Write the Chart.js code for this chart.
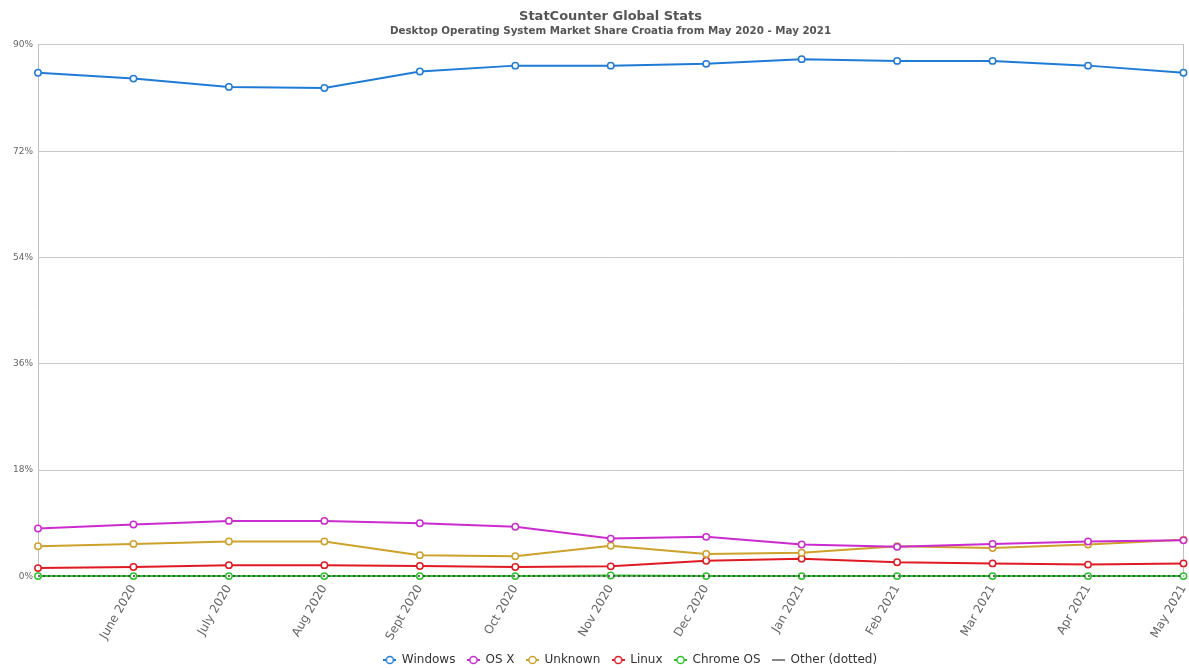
<!DOCTYPE html>
<html>
<head>
<meta charset="utf-8">
<script src="https://cdn.jsdelivr.net/npm/chart.js@4"></script>
<style>
  html, body { margin: 0; padding: 0; background: #fff; }
  #wrap { width: 1189px; height: 668px; }
</style>
</head>
<body>
<div id="wrap"><canvas id="chart"></canvas></div>
<script>
// Mois affichés sur l'axe x
const months = ['May 2020', 'June 2020', 'July 2020', 'Aug 2020', 'Sept 2020', 'Oct 2020', 'Nov 2020',
                'Dec 2020', 'Jan 2021', 'Feb 2021', 'Mar 2021', 'Apr 2021', 'May 2021'];

// Parts de marché (%)
const windowsData  = [85.3, 84.3, 82.9, 82.7, 85.5, 86.5, 86.5, 86.8, 87.6, 87.3, 87.3, 86.5, 85.3];
const osxData      = [8.1, 8.8, 9.4, 9.4, 9.0, 8.4, 6.4, 6.7, 5.4, 5.0, 5.5, 5.9, 6.1];
const unknownData  = [5.1, 5.5, 5.9, 5.9, 3.6, 3.4, 5.2, 3.8, 4.0, 5.1, 4.8, 5.4, 6.2];
const linuxData    = [1.4, 1.6, 1.9, 1.9, 1.75, 1.6, 1.7, 2.65, 3.0, 2.4, 2.2, 2.0, 2.2];
const chromeOsData = [0.05, 0.05, 0.05, 0.05, 0.05, 0.05, 0.15, 0.05, 0.05, 0.05, 0.05, 0.05, 0.05];
const otherData    = [0.05, 0.05, 0.05, 0.05, 0.05, 0.05, 0.05, 0.05, 0.05, 0.05, 0.05, 0.05, 0.05];

// Graduations de l'axe y
const yTicks = [0, 18, 36, 54, 72, 90];

const titleText = 'StatCounter Global Stats';
const subtitleText = 'Desktop Operating System Market Share Croatia from May 2020 - May 2021';

// Symbole de légende : trait + petit cercle
function legendSymbol(color, withCircle) {
    const c = document.createElement('canvas');
    c.width = 13;
    c.height = 10;
    const g = c.getContext('2d');
    g.strokeStyle = color;
    g.lineWidth = 2;
    g.beginPath();
    g.moveTo(0, 5);
    g.lineTo(13, 5);
    g.stroke();
    if (withCircle) {
        g.fillStyle = '#ffffff';
        g.lineWidth = 1.5;
        g.beginPath();
        g.arc(6.5, 5, 3.6, 0, Math.PI * 2);
        g.fill();
        g.stroke();
    }
    return c;
}

function serie(label, data, color, order) {
    return {
        label: label,
        data: data,
        order: order,
        borderColor: color,
        backgroundColor: '#ffffff',
        borderWidth: 2,
        pointRadius: 3.2,
        pointBorderWidth: 1.5,
        pointBackgroundColor: '#ffffff',
        pointBorderColor: color,
        tension: 0,
        clip: false,
        legendStyle: legendSymbol(color, true)
    };
}

const datasets = [
    serie('Windows', windowsData, '#1f7bd6', 0),
    serie('OS X', osxData, '#cc2bcf', 1),
    serie('Unknown', unknownData, '#cda22a', 2),
    serie('Linux', linuxData, '#e01a22', 3),
    serie('Chrome OS', chromeOsData, '#2ec22e', 4),
    {
        label: 'Other (dotted)',
        data: otherData,
        order: -1,
        borderColor: '#3a3a3a',
        backgroundColor: '#888888',
        borderWidth: 1.5,
        borderDash: [2, 3],
        pointRadius: 0,
        clip: false,
        legendStyle: legendSymbol('#888888', false)
    }
];

// Décale légende et titres pour les placer comme sur l'original
const boxShift = {
    id: 'boxShift',
    afterLayout(ch) {
        const lg = ch.legend;
        if (lg) {
            lg.left += 33; lg.right += 33;
            lg.top += 8; lg.bottom += 8;
        }
        ch.boxes.forEach(b => {
            const t = b.options && b.options.text;
            if (t === titleText || t === subtitleText) {
                b.left += 13; b.right += 13;
            }
        });
    }
};

const ctx = document.getElementById('chart').getContext('2d');
const chart = new Chart(ctx, {
    type: 'line',
    data: { labels: months, datasets: datasets },
    plugins: [boxShift],
    options: {
        responsive: true,
        maintainAspectRatio: false,
        animation: false,
        layout: { padding: { left: 8, right: 2, top: 0, bottom: 0 } },
        scales: {
            x: {
                type: 'category',
                offset: false,
                grid: { display: false, drawTicks: false },
                border: { display: true, color: '#c0c0c0' },
                afterFit: function(scale) {
                    scale.paddingRight = 0;
                    scale.paddingLeft = 0;
                    scale.height -= 15;
                    // pas de découpe des étiquettes
                    scale._computeLabelArea = () => undefined;
                },
                ticks: {
                    autoSkip: false,
                    minRotation: 60,
                    maxRotation: 60,
                    padding: 6,
                    color: '#666666',
                    font: { family: 'DejaVu Sans', size: 12 },
                    callback: function(value, index) {
                        return index === 0 ? '' : months[index];
                    }
                }
            },
            y: {
                min: 0,
                max: 90,
                afterBuildTicks: function(axis) {
                    axis.ticks = yTicks.map(v => ({ value: v }));
                },
                grid: { color: '#c8c8c8', drawTicks: false, lineWidth: 1 },
                border: { display: true, color: '#c0c0c0' },
                ticks: {
                    padding: 5,
                    color: '#666666',
                    font: { family: 'DejaVu Sans', size: 9 },
                    callback: v => v + '%'
                }
            },
            y2: {
                position: 'right',
                min: 0,
                max: 90,
                grid: { display: false, drawTicks: false },
                border: { display: true, color: '#c0c0c0' },
                ticks: { display: false }
            }
        },
        plugins: {
            title: {
                display: true,
                text: titleText,
                color: '#555555',
                font: { family: 'DejaVu Sans', size: 13, weight: 'bold' },
                padding: { top: 9, bottom: 1 }
            },
            subtitle: {
                display: true,
                text: subtitleText,
                color: '#555555',
                font: { family: 'DejaVu Sans', size: 10.3, weight: 'bold' },
                padding: { top: 0, bottom: 7 }
            },
            legend: {
                position: 'bottom',
                labels: {
                    usePointStyle: true,
                    boxWidth: 13,
                    boxHeight: 10,
                    padding: 12,
                    color: '#333333',
                    font: { family: 'DejaVu Sans', size: 12 },
                    sort: (a, b) => a.datasetIndex - b.datasetIndex,
                    generateLabels: function(ch) {
                        const items = Chart.defaults.plugins.legend.labels.generateLabels(ch);
                        items.forEach(it => {
                            it.pointStyle = ch.data.datasets[it.datasetIndex].legendStyle;
                        });
                        return items;
                    }
                }
            },
            tooltip: { enabled: false }
        }
    }
});
</script>
</body>
</html>
